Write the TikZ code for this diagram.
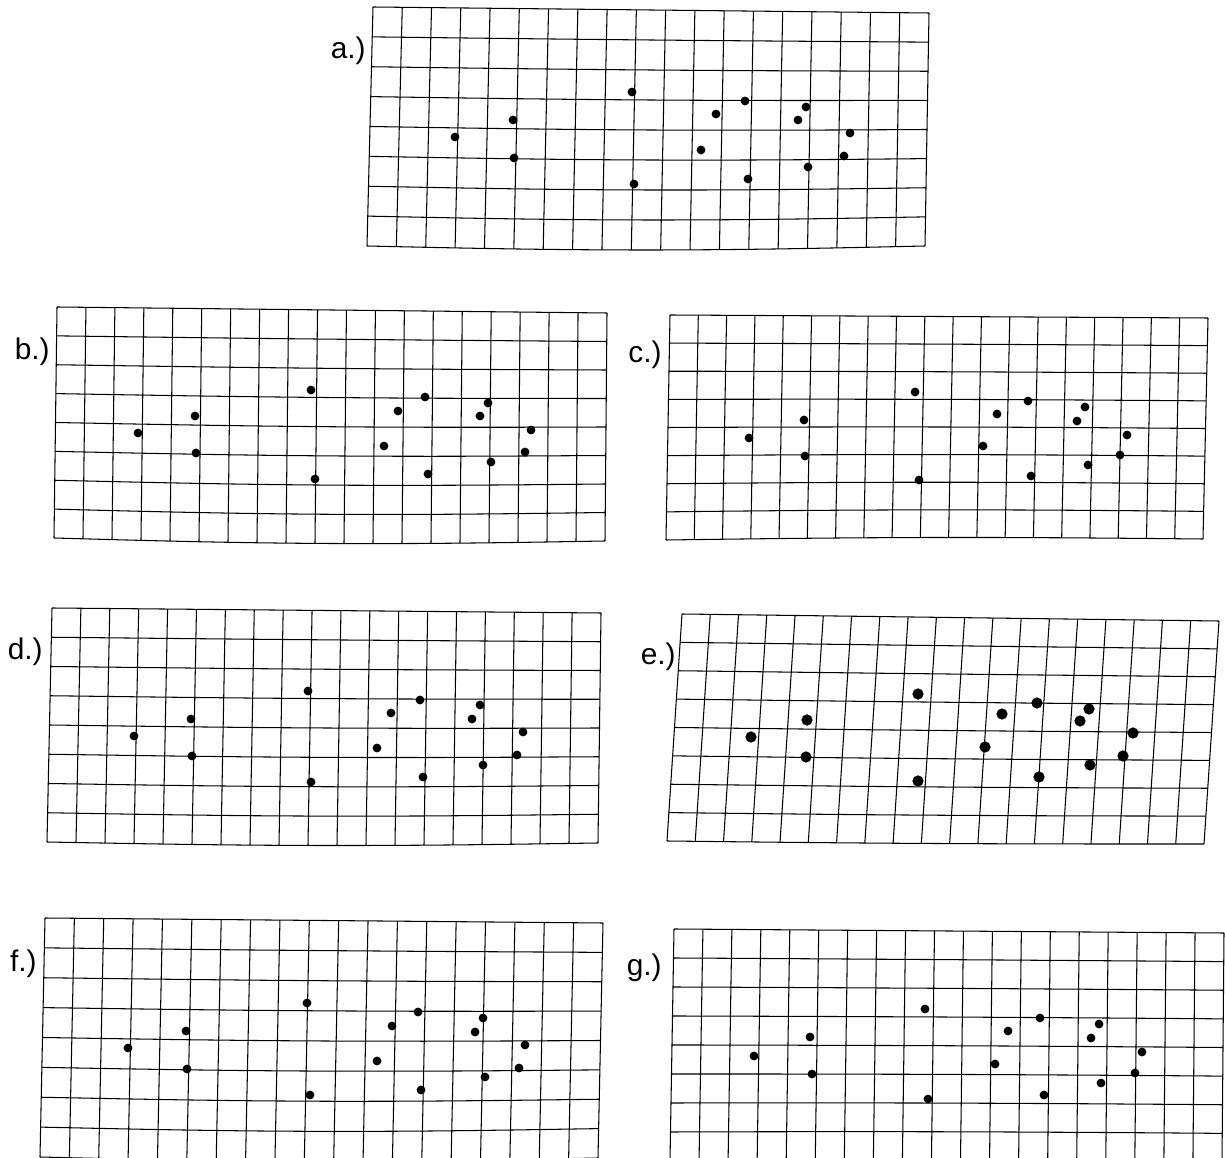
\documentclass[tikz,border=0pt]{standalone}
\usepackage{fontspec}
\setmainfont{Liberation Sans}
\tikzset{
  gridline/.style={draw=black,line width=0.6pt,line join=round},
  panellabel/.style={anchor=east,inner sep=0pt,font=\fontsize{17}{20}\selectfont}
}
% warped 19x8 grid: corners TL, TR, BL, BR and a sag of the lower rows
\newcommand{\warpgrid}[9]{%
  \foreach \j in {0,...,8}{%
    \pgfmathsetmacro{\gv}{\j/8}%
    \draw[gridline] plot[variable=\gt,domain=0:19,samples=20]
      ({(1-\gt/19)*(1-\gv)*#1+\gt/19*(1-\gv)*#3+(1-\gt/19)*\gv*#5+\gt/19*\gv*#7},
       {(1-\gt/19)*(1-\gv)*#2+\gt/19*(1-\gv)*#4+(1-\gt/19)*\gv*#6+\gt/19*\gv*#8+(#9)*sin(180*\gt/19)*\gv});
  }%
  \foreach \i in {0,...,19}{%
    \pgfmathsetmacro{\gu}{\i/19}%
    \draw[gridline] plot[variable=\gt,domain=0:8,samples=9]
      ({(1-\gu)*(1-\gt/8)*#1+\gu*(1-\gt/8)*#3+(1-\gu)*\gt/8*#5+\gu*\gt/8*#7},
       {(1-\gu)*(1-\gt/8)*#2+\gu*(1-\gt/8)*#4+(1-\gu)*\gt/8*#6+\gu*\gt/8*#8+(#9)*sin(180*\gu)*\gt/8});
  }%
}
\newcommand{\landmarks}[2]{\foreach \p in {#2} \fill \p circle (#1);}

\begin{document}
\begin{tikzpicture}[x=0.02cm,y=-0.02cm]
  \path[use as bounding box] (0,0) rectangle (1225,1158);
  \clip (0,0) rectangle (1225,1158);

  % a.) reference configuration
  \node[panellabel] (lbla) at (366,51) {a.)};
  \warpgrid{373}{7}{929}{13}{367}{246}{925}{246}{4}
  \landmarks{2.5pt}{(455,137),(513,120),(514,158),(632,92),(634,184),(716,114),(745,101),
    (701,150),(748,179),(806,107),(798,120),(850,133),(844,156),(808,167)}

  % b.)
  \node[panellabel] (lblb) at (50,352) {b.)};
  \warpgrid{57}{307}{607}{313}{54}{538}{605}{541}{4}
  \landmarks{2.5pt}{(138,433),(195,416),(196,453),(311,390),(315,479),(398,411),(425,397),
    (384,446),(428,474),(488,403),(480,416),(531,430),(525,452),(491,462)}

  % c.)
  \node[panellabel] (lblc) at (662,355) {c.)};
  \warpgrid{670}{315}{1208}{318}{666}{540}{1203}{539}{-2}
  \landmarks{2.5pt}{(749,438),(804,420),(805,456),(915,392),(919,480),(997,414),(1028,401),
    (983,446),(1031,476),(1085,407),(1077,421),(1127,435),(1120,455),(1088,465)}

  % d.)
  \node[panellabel] (lbld) at (43,652) {d.)};
  \warpgrid{52}{608}{601}{613}{47}{842}{598}{843}{3}
  \landmarks{2.5pt}{(134,736),(191,719),(192,756),(308,691),(311,782),(391,713),(420,700),
    (377,748),(423,777),(480,705),(472,719),(523,732),(517,755),(483,765)}

  % e.) larger landmarks
  \node[panellabel] (lble) at (676,657) {e.)};
  \warpgrid{682}{614}{1219}{621}{667}{841}{1204}{844}{1}
  \landmarks{3.2pt}{(751,737),(807,720),(806,757),(918,694),(918,781),(1002,714),(1037,703),
    (985,747),(1039,777),(1089,709),(1080,721),(1133,733),(1123,756),(1090,765)}

  % f.)
  \node[panellabel] (lblf) at (37,964) {f.)};
  \warpgrid{45}{918}{603}{923}{40}{1157}{598}{1158}{4}
  \landmarks{2.5pt}{(128,1048),(186,1031),(187,1069),(307,1003),(310,1095),(392,1026),(418,1012),
    (377,1061),(421,1090),(483,1018),(475,1032),(525,1045),(519,1068),(485,1077)}

  % g.)
  \node[panellabel] (lblg) at (662,968) {g.)};
  \warpgrid{674}{929}{1224}{933}{670}{1161}{1222}{1162}{-1}
  \landmarks{2.5pt}{(754,1056),(810,1037),(812,1074),(925,1009),(928,1099),(1008,1031),(1040,1018),
    (995,1064),(1044,1095),(1099,1024),(1091,1038),(1142,1052),(1135,1073),(1101,1083)}
\end{tikzpicture}
\end{document}
